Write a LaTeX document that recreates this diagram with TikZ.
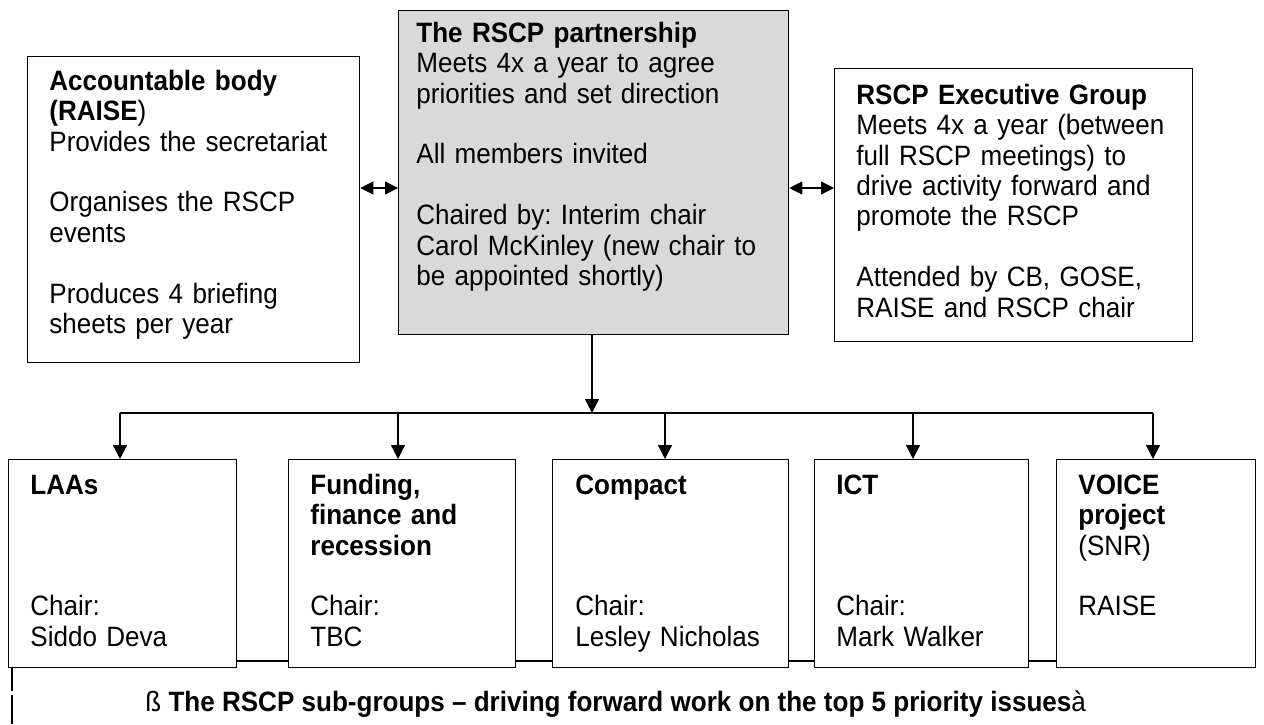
\documentclass[tikz,border=0pt]{standalone}
\usepackage{fontspec}
\setmainfont{Liberation Sans}[FakeStretch=0.93]
\usetikzlibrary{arrows.meta,calc}
\definecolor{boxgray}{gray}{0.85}
\frenchspacing
\begin{document}
\begin{tikzpicture}[x=0.5pt,y=-0.5pt,
  box/.style={draw=black, line width=0.65pt, inner sep=0pt, anchor=north west},
  txt/.style={anchor=north west, inner sep=0pt, align=left, text width=#1, font=\fontsize{14}{15.2}\selectfont\frenchspacing},
  conn/.style={line width=0.6pt},
  tip/.style={-{Triangle[length=7pt,width=7pt]}},
  dtip/.style={{Triangle[length=6.5pt,width=6.5pt]}-{Triangle[length=6.5pt,width=6.5pt]}}
]
\useasboundingbox (0,0) rectangle (1264,724);

% top boxes
\node[box, minimum width=166pt, minimum height=153pt] (L) at (27,56) {};
\node[box, fill=boxgray, minimum width=195pt, minimum height=162pt] (M) at (398,10) {};
\node[box, minimum width=179pt, minimum height=136.5pt] (R) at (834,68) {};

\node[txt=155pt] (Lt) at (49,68.7) {\strut\textbf{Accountable body}\\
\textbf{(RAISE})\\
Provides the secretariat\\[15.2pt]
Organises the RSCP\\
events\\[15.2pt]
Produces 4 briefing\\
sheets per year};

\node[txt=180pt] (Mt) at (416,20.7) {\strut\textbf{The RSCP partnership}\\
Meets 4x a year to agree\\
priorities and set direction\\[15.2pt]
All members invited\\[15.2pt]
Chaired by: Interim chair\\
Carol McKinley (new chair to\\
be appointed shortly)};

\node[txt=165pt] (Rt) at (856,82.7) {\strut\textbf{RSCP Executive Group}\\
Meets 4x a year (between\\
full RSCP meetings) to\\
drive activity forward and\\
promote the RSCP\\[15.2pt]
Attended by CB, GOSE,\\
RAISE and RSCP chair};

% bottom boxes
\node[box, minimum width=114pt, minimum height=104pt] (LAA) at (8,459) {};
\node[box, minimum width=113.5pt, minimum height=104pt] (FUN) at (288,459) {};
\node[box, minimum width=118pt, minimum height=104pt] (COM) at (552,459) {};
\node[box, minimum width=107pt, minimum height=104pt] (ICT) at (814,459) {};
\node[box, minimum width=99.5pt, minimum height=104pt] (VOI) at (1056,459) {};

\node[txt=100pt] (LAAt) at (30,472.7) {\strut\textbf{LAAs}\\[45.6pt]
Chair:\\
Siddo Deva};
\node[txt=100pt] (FUNt) at (310,472.7) {\strut\textbf{Funding,}\\
\textbf{finance and}\\
\textbf{recession}\\[15.2pt]
Chair:\\
TBC};
\node[txt=105pt] (COMt) at (575,472.7) {\strut\textbf{Compact}\\[45.6pt]
Chair:\\
Lesley Nicholas};
\node[txt=95pt] (ICTt) at (836,472.7) {\strut\textbf{ICT}\\[45.6pt]
Chair:\\
Mark Walker};
\node[txt=88pt] (VOIt) at (1078,472.7) {\strut\textbf{VOICE}\\
\textbf{project}\\
(SNR)\\[15.2pt]
RAISE};

\node[anchor=base west, inner sep=0pt, font=\fontsize{14}{15.2}\selectfont] (cap) at (145,711)
  {ß \textbf{The RSCP sub-groups – driving forward work on the top 5 priority issues}à};

% coordinates
\coordinate (ay) at (0,188);
\coordinate (mx) at (592,0);
\coordinate (busy) at (0,413);
\coordinate (b1) at (120,413);
\coordinate (b2) at (398,413);
\coordinate (b3) at (665,413);
\coordinate (b4) at (913,413);
\coordinate (b5) at (1153,413);
\coordinate (ly) at (0,661);
\coordinate (vx) at (12,0);
\coordinate (g1) at (12,691);
\coordinate (g2) at (12,695);
\coordinate (g3) at (12,724);

% connectors
\draw[conn, dtip] (L.east |- ay) -- (M.west |- ay);
\draw[conn, dtip] (M.east |- ay) -- (R.west |- ay);
\draw[conn, tip] (M.south -| mx) -- (mx |- busy);
\draw[conn] (b1) -- (b5);
\draw[conn, tip] (b1) -- (b1 |- LAA.north);
\draw[conn, tip] (b2) -- (b2 |- FUN.north);
\draw[conn, tip] (b3) -- (b3 |- COM.north);
\draw[conn, tip] (b4) -- (b4 |- ICT.north);
\draw[conn, tip] (b5) -- (b5 |- VOI.north);

\draw[conn] (LAA.east |- ly) -- (FUN.west |- ly);
\draw[conn] (FUN.east |- ly) -- (COM.west |- ly);
\draw[conn] (COM.east |- ly) -- (ICT.west |- ly);
\draw[conn] (ICT.east |- ly) -- (VOI.west |- ly);

\draw[conn] (LAA.south -| vx) -- (g1);
\draw[conn] (g2) -- (g3);
\end{tikzpicture}
\end{document}
